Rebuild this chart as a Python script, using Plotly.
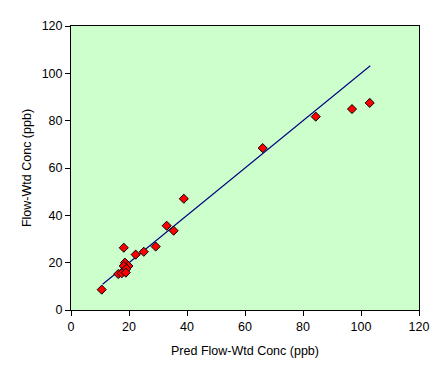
import plotly.graph_objects as go

pred = [10.6, 38.9, 33.0, 35.4, 18.2, 22.3, 25.1, 29.2, 18.6, 19.8, 18.2, 19.1,
        16.3, 17.5, 18.9, 66.1, 84.4, 96.9, 103.0]
obs = [8.6, 47.0, 35.6, 33.5, 26.3, 23.4, 24.6, 26.8, 20.0, 18.6, 18.6, 17.4,
       15.2, 15.5, 15.8, 68.4, 81.7, 84.9, 87.5]
line_x = [10.9, 103.2]
line_y = [10.9, 103.2]
ticks = [0, 20, 40, 60, 80, 100, 120]

fig = go.Figure()
fig.add_trace(go.Scatter(x=line_x, y=line_y, mode="lines",
                         line=dict(color="#000080", width=1.1), showlegend=False))
fig.add_trace(go.Scatter(x=pred, y=obs, mode="markers",
                         marker=dict(symbol="diamond", size=7, color="#FF0000",
                                     line=dict(color="#000000", width=1)),
                         showlegend=False))

font = dict(family="Liberation Sans, Arial", size=12.5, color="black")
axis_common = dict(range=[0, 120], tickvals=ticks, ticks="outside", ticklen=5,
                   tickcolor="black", showline=True, linecolor="black", linewidth=1,
                   showgrid=False, zeroline=False, tickfont=font)
fig.update_xaxes(title=dict(text="Pred Flow-Wtd Conc (ppb)", standoff=13, font=font),
                 mirror=True, **axis_common)
fig.update_yaxes(title=dict(text="Flow-Wtd Conc (ppb)", standoff=7, font=font),
                 mirror=True, **axis_common)
fig.update_layout(width=448, height=378, margin=dict(l=63, r=37, t=18, b=76, autoexpand=False),
                  plot_bgcolor="#CCFFCC", paper_bgcolor="white")
fig.write_html("out.html")
